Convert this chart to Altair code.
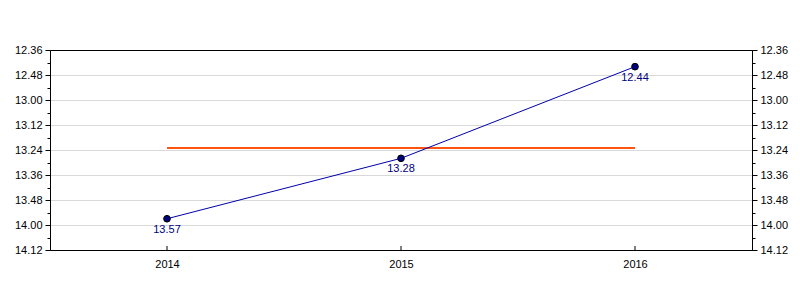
import altair as alt
import pandas as pd

years = ["2014", "2015", "2016"]
times = ["13.57", "13.28", "12.44"]   # minutes.seconds

def to_sec(t):
    m, s = t.split(".")
    return int(m) * 60 + int(s)

secs = [to_sec(t) for t in times]
df = pd.DataFrame({"year": years, "sec": secs, "label": times})
avg = sum(secs) / len(secs)
rule_df = pd.DataFrame({"x": [years[0]], "x2": [years[-1]], "sec": [avg]})

y_min, y_max = 756, 852
minor_vals = list(range(y_min, y_max + 1, 6))
fmt = "floor(datum.value/60) + '.' + (datum.value % 60 < 10 ? '0' : '') + (datum.value % 60)"
major_test = "datum.value % 12 == 0"

def yaxis(orient):
    return alt.Axis(
        orient=orient, values=minor_vals, title=None,
        labelExpr="datum.value % 12 == 0 ? " + fmt + " : ''",
        labelOverlap=False, labelFlush=False,
        tickSize={"condition": {"test": major_test, "value": 5}, "value": 3},
        gridOpacity={"condition": {"test": major_test + " && datum.value > 756 && datum.value < 852", "value": 1}, "value": 0},
        grid=(orient == "left"), gridColor="#d9d9d9",
        tickColor="black", domainColor="black", labelColor="black",
        labelFont="Liberation Sans", labelFontSize=11, labelPadding=3,
    )

yscale = alt.Scale(domain=[y_min, y_max], reverse=True, nice=False, zero=False)
xscale = alt.Scale(type="point", domain=years, padding=0.5)
xaxis = alt.Axis(title=None, ticks=False, labelAngle=0, labelFont="Liberation Sans",
                 labelFontSize=11, labelColor="black", labelPadding=8,
                 domainColor="black", grid=False)

Y = alt.Y("sec:Q", scale=yscale, axis=yaxis("left"))
X = alt.X("year:O", scale=xscale, axis=xaxis)

base = alt.Chart(df)
rule = alt.Chart(rule_df).mark_rule(color="#ff5511", strokeWidth=2).encode(
    x=alt.X("x:O", scale=xscale, axis=xaxis), x2="x2:O", y=Y)
line = base.mark_line(color="#0000aa", strokeWidth=1).encode(x=X, y=Y)
pts = base.mark_point(filled=True, size=45, color="#000080", stroke="#000000",
                      strokeWidth=1, opacity=1).encode(x=X, y=Y)
txt = base.mark_text(dy=11, baseline="middle", color="#000080",
                     font="Liberation Sans", fontSize=11).encode(x=X, y=Y, text="label:N")
xt = base.mark_rule(color="black", strokeWidth=1).encode(
    x=X, y=alt.value(196), y2=alt.value(200))

left = alt.layer(rule, line, pts, txt, xt)
right = alt.Chart(df).mark_point(opacity=0).encode(
    y=alt.Y("sec:Q", scale=yscale, axis=yaxis("right")))

chart = alt.layer(left, right).resolve_scale(y="independent").properties(
    width=702, height=200, padding={"left": 50, "top": 50, "right": 48, "bottom": 50},
    autosize=alt.AutoSizeParams(type="none"), background="white",
).configure_view(stroke="black", strokeWidth=1)

chart.save("out.html", embed_options={"renderer": "svg", "actions": False})
